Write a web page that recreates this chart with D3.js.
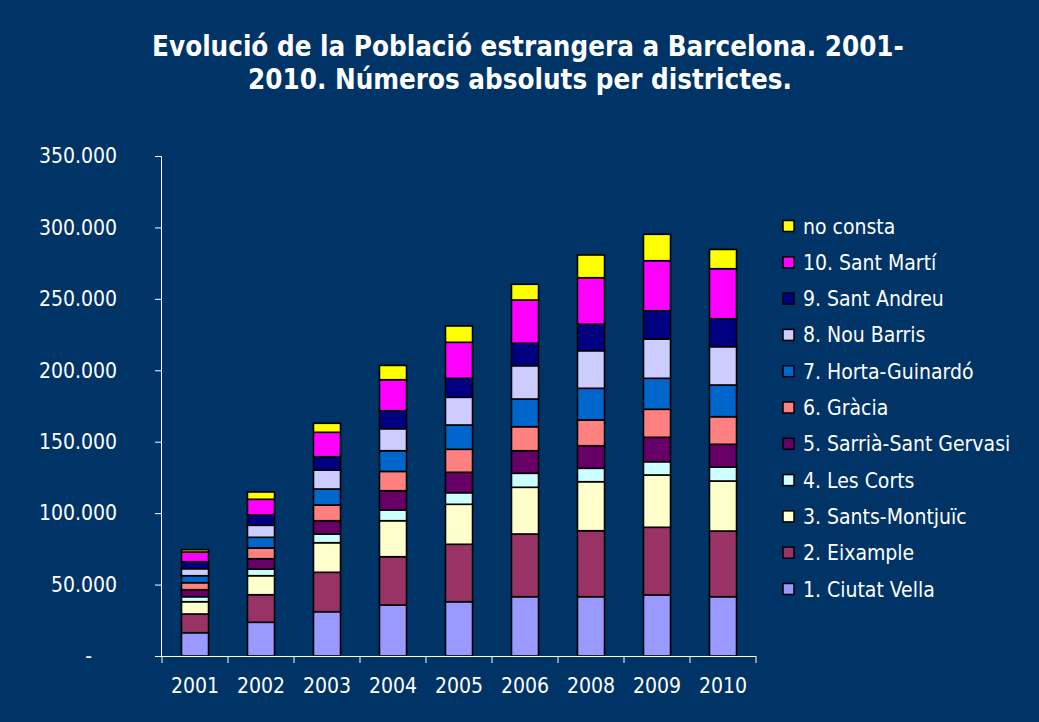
<!DOCTYPE html>
<html>
<head>
<meta charset="utf-8">
<script src="https://cdn.jsdelivr.net/npm/d3@7"></script>
<style>
  body { margin: 0; background: #003366; }
  text { font-family: "DejaVu Sans Condensed", "DejaVu Sans", sans-serif; fill: #fff; }
</style>
</head>
<body>
<div id="display"></div>
<script>
let w = 1039;
let h = 722;

// data (number of foreign residents)
const years = ['2001', '2002', '2003', '2004', '2005', '2006', '2008', '2009', '2010'];
const districts = ['1. Ciutat Vella', '2. Eixample', '3. Sants-Montjuïc', '4. Les Corts', '5. Sarrià-Sant Gervasi',
                   '6. Gràcia', '7. Horta-Guinardó', '8. Nou Barris', '9. Sant Andreu', '10. Sant Martí', 'no consta'];
const ciutatVella = [16300, 23600, 31000, 35700, 38000, 41500, 41500, 42700, 41500];
const eixample = [13100, 19300, 27600, 33800, 40200, 43900, 46200, 47400, 46000];
const santsMontjuic = [8600, 13300, 20700, 25200, 28000, 32700, 34300, 36600, 35000];
const lesCorts = [3500, 4700, 6100, 7500, 8100, 9800, 9400, 9300, 9800];
const sarriaSantGervasi = [4900, 7200, 9300, 13500, 14300, 15800, 15800, 17100, 15900];
const gracia = [4900, 7500, 11000, 13500, 16100, 16800, 18000, 19600, 19300];
const hortaGuinardo = [4900, 7500, 11200, 14500, 17000, 19400, 22200, 21700, 22200];
const nouBarris = [4900, 8400, 13300, 15400, 19400, 23300, 26300, 27500, 26800];
const santAndreu = [4900, 7200, 9300, 12600, 13300, 15700, 18500, 19800, 19600];
const santMarti = [6800, 11000, 17100, 21700, 25200, 30300, 32600, 35000, 35000];
const noConsta = [1600, 5100, 6300, 10000, 11400, 11000, 15900, 18500, 13500];
const yTicks = [0, 50000, 100000, 150000, 200000, 250000, 300000, 350000];

const series = [ciutatVella, eixample, santsMontjuic, lesCorts, sarriaSantGervasi,
                gracia, hortaGuinardo, nouBarris, santAndreu, santMarti, noConsta];
const colors = ['#9999ff', '#993366', '#ffffcc', '#ccffff', '#660066',
                '#ff8080', '#0066cc', '#ccccff', '#000080', '#ff00ff', '#ffff00'];

let viz = d3.select('#display')
            .append('svg')
                .attr('width', w)
                .attr('height', h)
                .style('background-color', '#003366');

// title
viz.append('text')
    .attr('x', 528).attr('y', 56)
    .attr('text-anchor', 'middle')
    .style('font-weight', 'bold').style('font-size', '27.5px')
    .text('Evolució de la Població estrangera a Barcelona. 2001-');
viz.append('text')
    .attr('x', 520).attr('y', 89)
    .attr('text-anchor', 'middle')
    .style('font-weight', 'bold').style('font-size', '27.5px')
    .text('2010. Números absoluts per districtes.');

// table for the stack
let table = years.map((y, i) => {
    let row = { year: y };
    districts.forEach((d, j) => row[d] = series[j][i]);
    return row;
});
let stacked = d3.stack().keys(districts)(table);

let xScale = d3.scaleBand().domain(years).range([162, 756]).paddingInner(0.59).paddingOuter(0.295);
let yScale = d3.scaleLinear().domain([0, 350000]).range([656, 156]);

let locale = d3.formatLocale({ decimal: ',', thousands: '.', grouping: [3], currency: ['', '€'] });
let fmt = locale.format(',');

// y axis
let yAxis = d3.axisLeft(yScale)
    .tickValues(yTicks)
    .tickSize(6)
    .tickPadding(38)
    .tickFormat((d) => d === 0 ? '-' : fmt(d));
let yg = viz.append('g')
    .attr('class', 'yaxis')
    .attr('transform', 'translate(' + 161 + ',' + 0 + ')')
    .call(yAxis);
yg.selectAll('path, line').attr('stroke', '#fff');
yg.selectAll('text').style('font-size', '21px').style('fill', '#fff').attr('font-family', null);
// the zero label sits further left, like the accounting format
yg.selectAll('.tick').filter((d) => d === 0).select('text').attr('dx', -25);

// bars
viz.append('g')
    .selectAll('g')
    .data(stacked)
    .join('g')
        .attr('fill', (d, i) => colors[i])
    .selectAll('rect')
    .data((d) => d)
    .join('rect')
        .attr('x', (d) => xScale(d.data.year))
        .attr('y', (d) => yScale(d[1]))
        .attr('width', xScale.bandwidth())
        .attr('height', (d) => yScale(d[0]) - yScale(d[1]))
        .attr('stroke', '#000')
        .attr('stroke-width', 1.6);

// x axis
let xAxis = d3.axisBottom(xScale).tickSize(0).tickPadding(22);
let xg = viz.append('g')
    .attr('class', 'xaxis')
    .attr('transform', 'translate(' + 0 + ',' + 656 + ')')
    .call(xAxis);
xg.select('.domain').attr('stroke', '#fff').attr('d', 'M161,0.5H756');
xg.selectAll('text').style('font-size', '21px').style('fill', '#fff').attr('font-family', null);
let step = xScale.step();
xg.selectAll('.sep')
    .data(d3.range(years.length + 1))
    .join('line')
        .attr('class', 'sep')
        .attr('x1', (i) => 162 + i * step).attr('x2', (i) => 162 + i * step)
        .attr('y1', 0).attr('y2', 7)
        .attr('stroke', '#fff');

// legend, top entry is the last series
let legend = viz.append('g')
    .selectAll('g')
    .data(districts.slice().reverse())
    .join('g')
        .attr('transform', (d, i) => 'translate(' + 783 + ',' + (226 + i * 36.3) + ')');
legend.append('rect')
    .attr('x', 0).attr('y', -5.5)
    .attr('width', 11).attr('height', 11)
    .attr('fill', (d) => colors[districts.indexOf(d)])
    .attr('stroke', '#000').attr('stroke-width', 1.5);
legend.append('text')
    .attr('x', 20).attr('y', 0)
    .attr('dy', '0.36em')
    .style('font-size', '21px')
    .text((d) => d);
</script>
</body>
</html>
